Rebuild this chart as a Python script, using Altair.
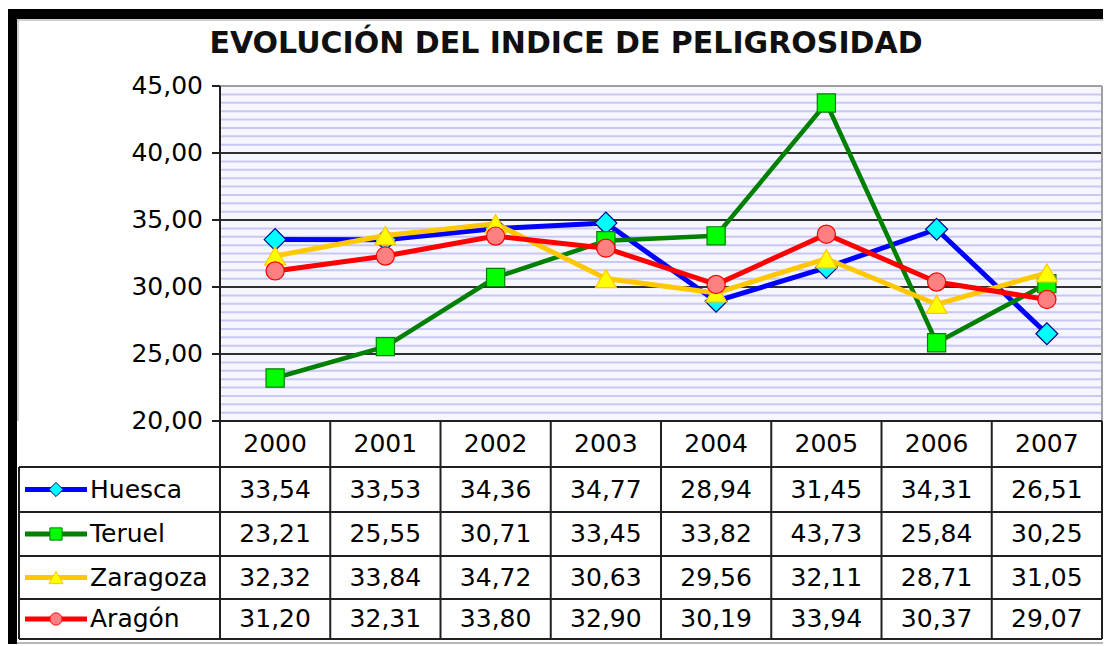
import altair as alt
import pandas as pd

# ---------------- data ----------------
title_text = "EVOLUCIÓN DEL INDICE DE PELIGROSIDAD"
years = ["2000", "2001", "2002", "2003", "2004", "2005", "2006", "2007"]
series_names = ["Huesca", "Teruel", "Zaragoza", "Aragón"]
huesca = [33.54, 33.53, 34.36, 34.77, 28.94, 31.45, 34.31, 26.51]
teruel = [23.21, 25.55, 30.71, 33.45, 33.82, 43.73, 25.84, 30.25]
zaragoza = [32.32, 33.84, 34.72, 30.63, 29.56, 32.11, 28.71, 31.05]
aragon = [31.20, 32.31, 33.80, 32.90, 30.19, 33.94, 30.37, 29.07]
series_values = [huesca, teruel, zaragoza, aragon]
y_ticks = [20, 25, 30, 35, 40, 45]

# ---------------- styles ----------------
line_colors = ["#0000FF", "#008000", "#FFC800", "#FF0000"]
marker_fill = ["#00FFFF", "#00FF00", "#FFFF00", "#FF8080"]
marker_stroke = ["#00008B", "#008000", "#FFC800", "#FF0000"]
shapes = ["diamond", "square", "triangle-up", "circle"]
marker_sizes = [480, 330, 440, 330]
legend_sizes = [200, 150, 200, 150]
line_widths = [5, 4.5, 5, 5]
FONT = "DejaVu Sans"

# ---------------- layout (page pixels -> scale units) ----------------
W, H = 1095, 636
PLOT_L, Y20, PPU = 220, 421, 13.4
COL = (1102 - PLOT_L) / 8


def dx(p):
    return (p - PLOT_L) / COL


def dy(p):
    return 20 + (Y20 - p) / PPU


X_DOMAIN = [dx(8), dx(8 + W)]
Y_DOMAIN = [dy(8 + H), dy(8)]
XS = alt.Scale(domain=X_DOMAIN, nice=False, zero=False)
YS = alt.Scale(domain=Y_DOMAIN, nice=False, zero=False)
X = alt.X("x:Q", scale=XS, axis=None)
Y = alt.Y("y:Q", scale=YS, axis=None)
X2 = alt.X2("x2:Q")
Y2 = alt.Y2("y2:Q")

row_edges = [421, 467, 512, 556, 599, 639]
row_centers = [(row_edges[i] + row_edges[i + 1]) / 2 for i in range(1, 5)]
header_center = (row_edges[0] + row_edges[1]) / 2
n = len(years)


def fmt(v):
    return f"{v:.2f}".replace(".", ",")


layers = []

# outer frame
frame = pd.DataFrame({"x": [dx(8), dx(8)], "x2": [dx(8 + W), dx(17)],
                      "y": [dy(9), dy(9)], "y2": [dy(19), dy(8 + H)]})
layers.append(alt.Chart(frame).mark_rect(color="black").encode(x=X, x2=X2, y=Y, y2=Y2))
frame_in = pd.DataFrame({"x": [dx(17), dx(18)], "x2": [dx(8 + W), dx(18)],
                         "y": [dy(20), dy(20)], "y2": [dy(20), dy(421)]})
layers.append(alt.Chart(frame_in).mark_rule(color="#A0A0A0", strokeWidth=1).encode(x=X, x2=X2, y=Y, y2=Y2))

# plot background
bg = pd.DataFrame({"x": [0], "x2": [n], "y": [20], "y2": [45]})
layers.append(alt.Chart(bg).mark_rect(color="#F6F6FF").encode(x=X, x2=X2, y=Y, y2=Y2))

# stripes
stripe_y = [20 + k * 0.625 for k in range(1, 40) if k % 8 != 0]
stripes = pd.DataFrame({"x": [0] * len(stripe_y), "x2": [n] * len(stripe_y), "y": stripe_y})
layers.append(alt.Chart(stripes).mark_rule(color="#C8C8F4", strokeWidth=2).encode(x=X, x2=X2, y=Y))

# major gridlines
grid_y = [25, 30, 35, 40]
grid = pd.DataFrame({"x": [0] * 4, "x2": [n] * 4, "y": grid_y})
layers.append(alt.Chart(grid).mark_rule(color="#303030", strokeWidth=2).encode(x=X, x2=X2, y=Y))

# plot border (top, right)
pb = pd.DataFrame({"x": [0, n], "x2": [n, n], "y": [45, 45], "y2": [45, 20]})
layers.append(alt.Chart(pb).mark_rule(color="#A0A0A0", strokeWidth=2).encode(x=X, x2=X2, y=Y, y2=Y2))

# y axis line + ticks
ax = pd.DataFrame({"x": [0], "x2": [0], "y": [20], "y2": [45]})
layers.append(alt.Chart(ax).mark_rule(color="#202020", strokeWidth=2).encode(x=X, x2=X2, y=Y, y2=Y2))
ticks = pd.DataFrame({"x": [dx(212)] * len(y_ticks), "x2": [0] * len(y_ticks), "y": y_ticks})
layers.append(alt.Chart(ticks).mark_rule(color="#202020", strokeWidth=2).encode(x=X, x2=X2, y=Y))
tl = pd.DataFrame({"x": [dx(203)] * len(y_ticks), "y": y_ticks, "t": [fmt(v) for v in y_ticks]})
layers.append(alt.Chart(tl).mark_text(align="right", baseline="middle", fontSize=25, font=FONT,
                                      color="black").encode(x=X, y=Y, text="t:N"))

# table lines
hx, hx2, hy = [], [], []
hx.append(0); hx2.append(n); hy.append(20)
for e in row_edges[1:]:
    hx.append(dx(19)); hx2.append(n); hy.append(dy(e))
hl = pd.DataFrame({"x": hx, "x2": hx2, "y": hy})
layers.append(alt.Chart(hl).mark_rule(color="#202020", strokeWidth=2).encode(x=X, x2=X2, y=Y))
vx = list(range(n + 1)) + [dx(19)]
vy = [20] * (n + 1) + [dy(row_edges[1])]
vl = pd.DataFrame({"x": vx, "y": vy, "y2": [dy(row_edges[-1])] * len(vx)})
layers.append(alt.Chart(vl).mark_rule(color="#202020", strokeWidth=2).encode(x=X, y=Y, y2=Y2))
bl = pd.DataFrame({"x": [dx(17)], "x2": [dx(8 + W)], "y": [dy(643)]})
layers.append(alt.Chart(bl).mark_rule(color="#A0A0A0", strokeWidth=1.5).encode(x=X, x2=X2, y=Y))

# header years
hdr = pd.DataFrame({"x": [i + 0.5 for i in range(n)], "y": [dy(header_center)] * n, "t": years})
layers.append(alt.Chart(hdr).mark_text(align="center", baseline="middle", fontSize=25, font=FONT,
                                       color="black").encode(x=X, y=Y, text="t:N"))

# cell values
cx, cy, ct = [], [], []
for r, vals in enumerate(series_values):
    for i, v in enumerate(vals):
        cx.append(i + 0.5); cy.append(dy(row_centers[r])); ct.append(fmt(v))
cells = pd.DataFrame({"x": cx, "y": cy, "t": ct})
layers.append(alt.Chart(cells).mark_text(align="center", baseline="middle", fontSize=25, font=FONT,
                                         color="black").encode(x=X, y=Y, text="t:N"))

# legend keys and names
for r, name in enumerate(series_names):
    yc = dy(row_centers[r])
    lk = pd.DataFrame({"x": [dx(25)], "x2": [dx(87)], "y": [yc]})
    layers.append(alt.Chart(lk).mark_rule(color=line_colors[r], strokeWidth=5).encode(x=X, x2=X2, y=Y))
    lp = pd.DataFrame({"x": [dx(56)], "y": [yc]})
    layers.append(alt.Chart(lp).mark_point(shape=shapes[r], filled=True, fill=marker_fill[r],
                                           stroke=marker_stroke[r], strokeWidth=1, opacity=1,
                                           size=legend_sizes[r]).encode(x=X, y=Y))
names = pd.DataFrame({"x": [dx(90)] * 4, "y": [dy(c) for c in row_centers], "t": series_names})
layers.append(alt.Chart(names).mark_text(align="left", baseline="middle", fontSize=25, font=FONT,
                                         color="black").encode(x=X, y=Y, text="t:N"))

# data series
for r, vals in enumerate(series_values):
    d = pd.DataFrame({"x": [i + 0.5 for i in range(n)], "y": vals})
    layers.append(alt.Chart(d).mark_line(color=line_colors[r], strokeWidth=line_widths[r], strokeJoin="round")
                  .encode(x=X, y=Y))
    layers.append(alt.Chart(d).mark_point(shape=shapes[r], filled=True, fill=marker_fill[r],
                                          stroke=marker_stroke[r], strokeWidth=1.2, opacity=1,
                                          size=marker_sizes[r]).encode(x=X, y=Y))

# title
tt = pd.DataFrame({"x": [dx(566)], "y": [dy(44)], "t": [title_text]})
layers.append(alt.Chart(tt).mark_text(align="center", baseline="middle", fontSize=30, font=FONT,
                                      fontWeight="bold", color="#101010").encode(x=X, y=Y, text="t:N"))

chart = alt.layer(*layers).properties(
    width=W, height=H, padding=0,
    autosize=alt.AutoSizeParams(type="none"),
    background="white",
).configure_view(strokeWidth=0)

chart.save("out.html", embed_options={"renderer": "svg", "actions": False})
